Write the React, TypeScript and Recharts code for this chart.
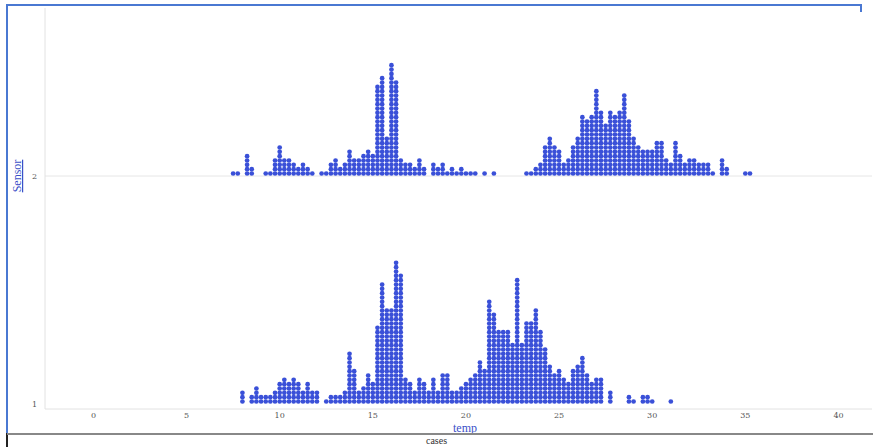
import React from "react";
import { ScatterChart, Scatter, XAxis, YAxis, ReferenceLine } from "recharts";

// dot counts per 0.25 temp bin
const BIN = 0.25;
const sensor2Start = 7.5;
const sensor2Counts = [
  1, 1, 0, 5, 2, 0, 0, 1, 1, 4, 7, 4, 4, 3, 2, 3, 2, 1, 0, 1, 1, 3, 4, 2, 3, 6, 4, 4, 5, 6, 5,
  21, 23, 9, 26, 22, 4, 3, 3, 2, 4, 2, 0, 3, 2, 3, 1, 2, 1, 2, 1, 1, 1, 0, 1, 0, 1, 0, 0, 0, 0,
  0, 0, 1, 1, 2, 3, 7, 9, 7, 6, 3, 4, 7, 9, 14, 13, 14, 20, 15, 12, 15, 14, 15, 19, 13, 9, 7,
  6, 6, 6, 8, 8, 4, 3, 8, 5, 3, 4, 4, 3, 3, 3, 1, 0, 4, 2, 0, 0, 0, 1, 1,
];
const sensor1Start = 8.0;
const sensor1Counts = [
  3, 0, 2, 4, 2, 2, 2, 3, 5, 6, 5, 6, 5, 3, 5, 3, 3, 0, 1, 2, 2, 2, 3, 12, 8, 3, 4, 7, 5, 18,
  28, 22, 22, 33, 30, 6, 5, 3, 6, 5, 3, 6, 3, 7, 7, 3, 3, 4, 5, 6, 7, 10, 8, 24, 21, 17, 17,
  17, 14, 29, 14, 19, 19, 22, 17, 13, 9, 7, 8, 6, 5, 8, 9, 11, 7, 5, 6, 6, 0, 3, 0, 0, 0, 2,
  1, 0, 2, 2, 1, 0, 0, 0, 1,
];
const xTicks = [0, 5, 10, 15, 20, 25, 30, 35, 40];
const yTicks = [1, 2];

const DOT_STEP = 0.019; // one dot height in sensor units
const DOT_BASE = 0.011;

function stack(sensor: number, start: number, counts: number[]) {
  const pts: { temp: number; y: number }[] = [];
  counts.forEach((n, i) => {
    for (let k = 0; k < n; k++) {
      pts.push({ temp: start + i * BIN, y: sensor + DOT_BASE + k * DOT_STEP });
    }
  });
  return pts;
}

const dots = [...stack(2, sensor2Start, sensor2Counts), ...stack(1, sensor1Start, sensor1Counts)];

const Dot = (props: any) => <circle cx={props.cx} cy={props.cy} r={2.35} fill="#3a50d8" />;

const tickStyle = { fontSize: 8, fill: "#555", fontFamily: "DejaVu Serif, serif" };

export default function App() {
  return (
    <div style={{ position: "absolute", left: 0, top: 0, width: 873, height: 447, background: "#fff", overflow: "hidden" }}>
      <ScatterChart width={873} height={447} margin={{ top: 8, right: 1, bottom: 8, left: 8 }}>
        <XAxis
          type="number"
          dataKey="temp"
          domain={[-2.6, 41.8]}
          ticks={xTicks}
          tickSize={0}
          tickMargin={3}
          height={30}
          stroke="#e2e2e2"
          tick={tickStyle}
          label={{
            content: () => (
              <text x={465} y={432} textAnchor="middle" fontSize={12} fill="#3b4fc8" textDecoration="underline" fontFamily="Liberation Serif, serif">
                temp
              </text>
            ),
          }}
        />
        <YAxis
          type="number"
          dataKey="y"
          domain={[0.978, 2.737]}
          ticks={yTicks}
          tickLine={false}
          width={37}
          stroke="#e2e2e2"
          tick={tickStyle}
          label={{
            content: () => (
              <text x={21} y={176} transform="rotate(-90 21 176)" textAnchor="middle" fontSize={12} fill="#3b4fc8" textDecoration="underline" fontFamily="Liberation Serif, serif">
                Sensor
              </text>
            ),
          }}
        />
        <ReferenceLine y={2} stroke="#e6e6e6" />
        <Scatter data={dots} shape={Dot} isAnimationActive={false} />
      </ScatterChart>
      <div style={{ position: "absolute", left: 7, top: 4, width: 855, height: 2, background: "#4a78d2" }} />
      <div style={{ position: "absolute", left: 860, top: 4, width: 2, height: 8, background: "#4a78d2" }} />
      <div style={{ position: "absolute", left: 6, top: 4, width: 2, height: 430, background: "#4a78d2" }} />
      <div style={{ position: "absolute", left: 6, top: 433, width: 2, height: 14, background: "#222" }} />
      <div style={{ position: "absolute", left: 7, top: 433, width: 866, height: 2, background: "#888" }} />
      <div style={{ position: "absolute", left: 0, top: 436, width: 873, textAlign: "center", fontSize: 10, lineHeight: "10px", color: "#333", fontFamily: "Liberation Serif, serif" }}>
        cases
      </div>
    </div>
  );
}
